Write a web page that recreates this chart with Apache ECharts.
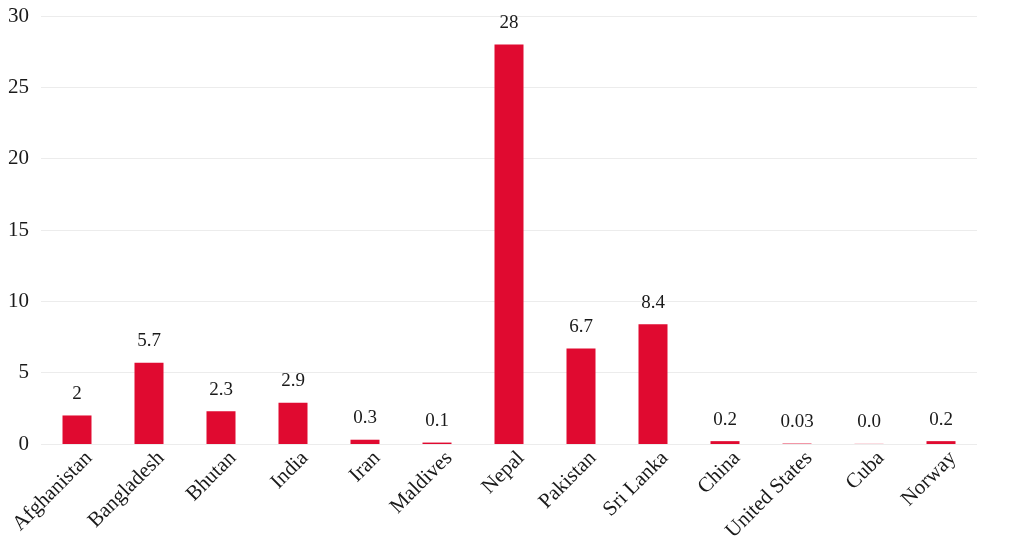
<!DOCTYPE html>
<html>
<head>
<meta charset="utf-8">
<script src="https://cdn.jsdelivr.net/npm/echarts@6/dist/echarts.min.js"></script>
<style>
  html, body { margin: 0; padding: 0; background: #fff; }
  #chart { width: 1024px; height: 545px; }
</style>
</head>
<body>
<div id="chart"></div>
<script>
const countries = ['Afghanistan', 'Bangladesh', 'Bhutan', 'India', 'Iran', 'Maldives', 'Nepal',
  'Pakistan', 'Sri Lanka', 'China', 'United States', 'Cuba', 'Norway'];
const values = [2, 5.7, 2.3, 2.9, 0.3, 0.1, 28, 6.7, 8.4, 0.2, 0.03, 0.01, 0.2];
// labels shown above bars (as printed on the original)
const valueLabels = ['2', '5.7', '2.3', '2.9', '0.3', '0.1', '28', '6.7', '8.4', '0.2', '0.03', '0.0', '0.2'];

const font = 'Liberation Serif';
const myChart = echarts.init(document.getElementById('chart'), null, { renderer: 'canvas' });

const options = {
  animation: false,
  grid: { left: 41, right: 47, top: 16, bottom: 101, outerBoundsMode: 'none' },
  xAxis: {
    type: 'category',
    data: countries,
    axisLine: { show: false },
    axisTick: { show: false },
    axisLabel: {
      rotate: 45,
      margin: -1,
      interval: 0,
      verticalAlign: 'top',
      lineHeight: 34,
      color: '#1a1a1a',
      fontFamily: font,
      fontSize: 21
    }
  },
  yAxis: {
    type: 'value',
    min: 0,
    max: 30,
    interval: 5,
    axisLine: { show: false },
    axisTick: { show: false },
    axisLabel: { color: '#1a1a1a', fontFamily: font, fontSize: 21, margin: 12 },
    splitLine: { lineStyle: { color: '#ececec', width: 1 } }
  },
  series: [{
    type: 'bar',
    data: values,
    barWidth: 29,
    itemStyle: { color: '#e00a30' },
    label: {
      show: true,
      position: 'top',
      distance: 12,
      color: '#1a1a1a',
      fontFamily: font,
      fontSize: 19,
      formatter: (p) => valueLabels[p.dataIndex]
    }
  }]
};

myChart.setOption(options);
</script>
</body>
</html>
